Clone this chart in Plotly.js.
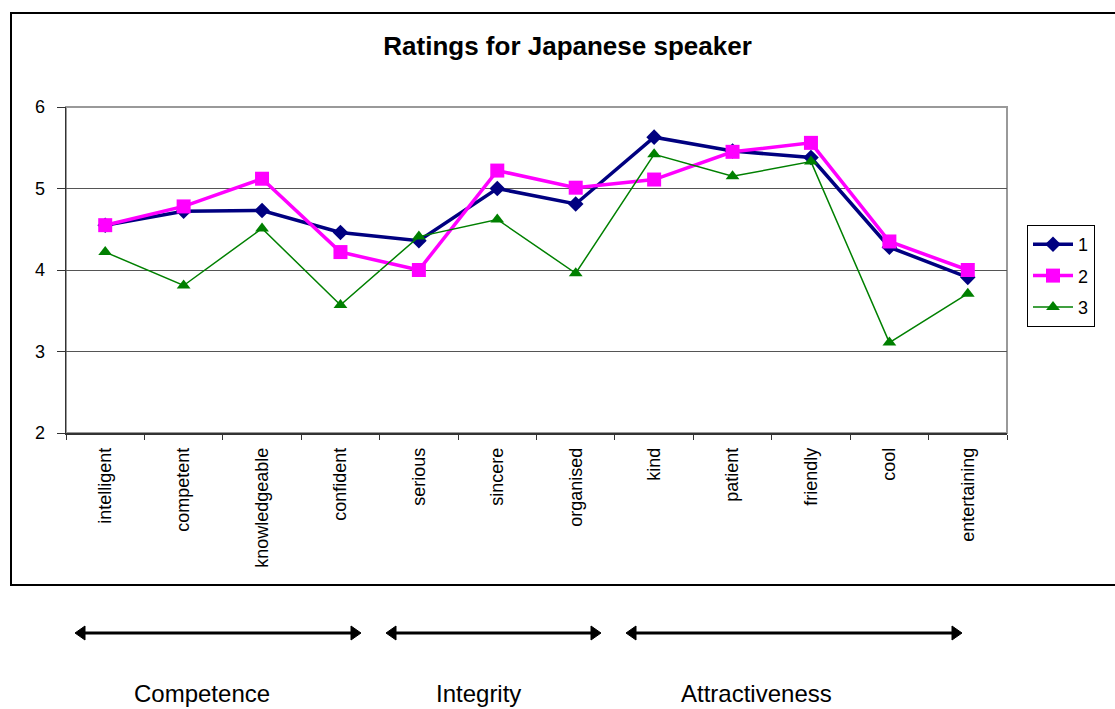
<!DOCTYPE html>
<html>
<head>
<meta charset="utf-8">
<script src="https://cdn.plot.ly/plotly-3.0.1.min.js"></script>
<style>html,body{margin:0;padding:0;background:#fff;}#chart{width:1115px;height:709px;}</style>
</head>
<body>
<div id="chart"></div>
<script>
// ---- data ----
const categories = ["intelligent","competent","knowledgeable","confident","serious","sincere","organised","kind","patient","friendly","cool","entertaining"];
const series1 = [4.55, 4.72, 4.73, 4.46, 4.36, 5.00, 4.81, 5.63, 5.46, 5.38, 4.28, 3.91];
const series2 = [4.55, 4.78, 5.12, 4.22, 4.00, 5.22, 5.01, 5.11, 5.45, 5.56, 4.35, 4.00];
const series3 = [4.22, 3.81, 4.51, 3.57, 4.41, 4.62, 3.96, 5.42, 5.15, 5.33, 3.11, 3.71];
const seriesNames = ["1","2","3"];
const groupLabels = ["Competence","Integrity","Attractiveness"];

// ---- layout helpers (pixel -> paper) ----
const W = 1115, H = 709;
const M = {l:66, r:108, t:107, b:276};
const PW = W - M.l - M.r, PH = H - M.t - M.b;
const px = x => (x - M.l) / PW;
const py = y => (H - M.b - y) / PH;

const FONT = "Liberation Sans, Arial, sans-serif";

const traces = [
  {x: categories, y: series1, name: seriesNames[0], legendgroup: "a", type: "scatter", mode: "lines+markers",
   line: {color: "#000080", width: 3.5}, marker: {symbol: "diamond", size: 12, color: "#000080"}},
  {x: categories, y: series2, name: seriesNames[1], legendgroup: "b", type: "scatter", mode: "lines+markers",
   line: {color: "#FF00FF", width: 3.5}, marker: {symbol: "square", size: 14, color: "#FF00FF"}},
  {x: categories, y: series3, name: seriesNames[2], legendgroup: "c", type: "scatter", mode: "lines+markers",
   line: {color: "#008000", width: 1.5}, marker: {symbol: "triangle-up", size: 12, color: "#008000"}}
];

// double-headed arrows under the chart
const arrowY = 633;
const arrows = [[75, 361], [386, 601], [626, 962]];
const shapes = [
  {type: "rect", xref: "paper", yref: "paper", x0: px(11), x1: px(1120), y0: py(585), y1: py(13),
   line: {color: "#000", width: 2}, layer: "below"},
  {type: "rect", xref: "paper", yref: "paper", x0: 0, x1: 1, y0: 0, y1: 1,
   line: {color: "#999", width: 2}, layer: "below"}
];
const hl = 10, hh = 7;
arrows.forEach(([a, b]) => {
  shapes.push({type: "line", xref: "paper", yref: "paper", x0: px(a + 4), x1: px(b - 4), y0: py(arrowY), y1: py(arrowY),
    line: {color: "#000", width: 3}});
  shapes.push({type: "path", xref: "paper", yref: "paper",
    path: `M ${px(a)},${py(arrowY)} L ${px(a + hl)},${py(arrowY - hh)} L ${px(a + hl)},${py(arrowY + hh)} Z`,
    fillcolor: "#000", line: {color: "#000", width: 1}});
  shapes.push({type: "path", xref: "paper", yref: "paper",
    path: `M ${px(b)},${py(arrowY)} L ${px(b - hl)},${py(arrowY - hh)} L ${px(b - hl)},${py(arrowY + hh)} Z`,
    fillcolor: "#000", line: {color: "#000", width: 1}});
});

const groupX = [202, 478, 756];
const annotations = groupLabels.map((t, i) => ({
  text: t, xref: "paper", yref: "paper", x: px(groupX[i]), y: py(708),
  xanchor: "center", yanchor: "bottom", showarrow: false, borderpad: 0,
  font: {family: FONT, size: 24, color: "#000"}
}));

const layout = {
  width: W, height: H,
  margin: M,
  paper_bgcolor: "#fff", plot_bgcolor: "#fff",
  font: {family: FONT, color: "#000"},
  title: {text: "<b>Ratings for Japanese speaker</b>", xref: "container", yref: "container",
          x: 0.509, y: 1 - 46 / H, xanchor: "center", yanchor: "middle",
          font: {family: FONT, size: 26, color: "#000"}},
  showlegend: true,
  legend: {x: px(1027), y: py(225), xanchor: "left", yanchor: "top",
           bordercolor: "#000", borderwidth: 1, bgcolor: "#fff",
           font: {family: FONT, size: 18, color: "#000"}, tracegroupgap: 5, itemwidth: 40},
  xaxis: {type: "category", range: [-0.5, 11.5], tickangle: -90,
          tickfont: {family: FONT, size: 18, color: "#000"},
          ticks: "outside", ticklen: 5, tickcolor: "#333", tickson: "boundaries",
          showline: true, linecolor: "#333", linewidth: 1.5, showgrid: false,
          zeroline: false, ticklabelstandoff: 6, fixedrange: true},
  yaxis: {range: [2, 6], dtick: 1, tickfont: {family: FONT, size: 18, color: "#000"},
          ticks: "outside", ticklen: 8, tickcolor: "#333",
          showline: true, linecolor: "#333", linewidth: 1.5,
          showgrid: true, gridcolor: "#555", gridwidth: 1, zeroline: false,
          ticklabelstandoff: 8, fixedrange: true},
  shapes: shapes,
  annotations: annotations,
  hovermode: false
};

Plotly.newPlot("chart", traces, layout, {staticPlot: true, displayModeBar: false});
</script>
</body>
</html>
